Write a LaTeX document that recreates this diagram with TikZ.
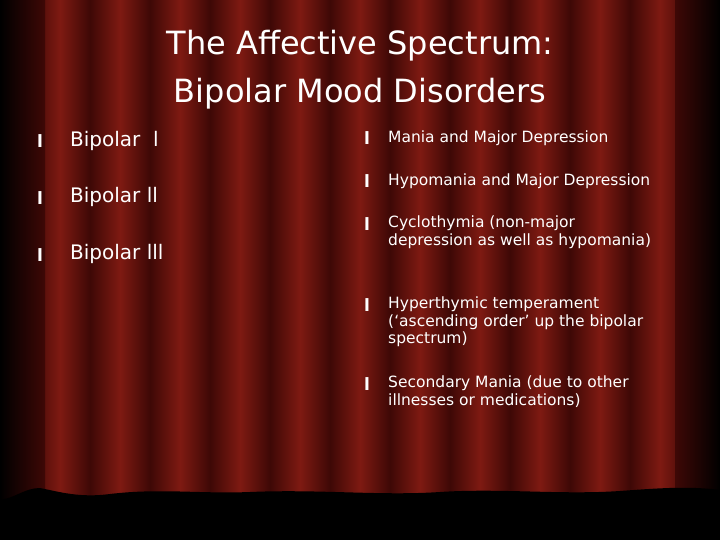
\documentclass[tikz,border=0pt]{standalone}
\usepackage{fontspec}
\setmainfont{DejaVu Sans}
\begin{document}
\begin{tikzpicture}[x=1pt,y=-1pt,
  txt/.style={text=white,anchor=west,inner sep=0pt,font=\fontsize{15.5}{17.5}\selectfont,align=left},
  big/.style={text=white,anchor=west,inner sep=0pt,font=\fontsize{20}{22}\selectfont},
  bul/.style={text=white,anchor=west,inner sep=0pt,font=\bfseries\fontsize{17}{18}\selectfont},
  ttl/.style={text=white,inner sep=0pt,font=\fontsize{32}{48}\selectfont,align=center}]
\useasboundingbox (0,0) rectangle (720,540);
\definecolor{cdark}{HTML}{3E0806}
\definecolor{cmid}{HTML}{6A120E}
\definecolor{clight}{HTML}{7E1A12}
\fill[black] (0,0) rectangle (720,540);
% curtain folds
\foreach \x in {30,90,150,210,270,330,390,450,510,570,630}{
  \shade[left color=cdark, right color=clight] (\x,0) rectangle (\x+30,500);
  \shade[left color=clight, right color=cdark] (\x+30,0) rectangle (\x+60,500);
}
\shade[left color=black, right color=cdark] (0,0) rectangle (45,500);
\shade[left color=cdark, right color=black] (675,0) rectangle (720,500);
% floor edge
\fill[black] (0,540) -- (0,500) .. controls (15,498) and (25,488) .. (40,488)
  .. controls (60,492) and (80,498) .. (110,494)
  .. controls (160,488) and (200,494) .. (250,492)
  .. controls (320,489) and (380,496) .. (440,492)
  .. controls (500,488) and (560,495) .. (620,491)
  .. controls (660,488) and (690,486) .. (720,490) -- (720,540) -- cycle;
\node[ttl] (t) at (360,70) {The Affective Spectrum:\\Bipolar Mood Disorders};
\node[bul] (b1) at (37,141) {l}; \node[big] (l1) at (70,141) {Bipolar\ \ l};
\node[bul] (b2) at (37,198) {l}; \node[big] (l2) at (70,197) {Bipolar ll};
\node[bul] (b3) at (37,255) {l}; \node[big] (l3) at (70,254) {Bipolar lll};
\node[bul] (r1) at (364,138) {l}; \node[txt] (s1) at (388,138) {Mania and Major Depression};
\node[bul] (r2) at (364,181) {l}; \node[txt] (s2) at (388,181) {Hypomania and Major Depression};
\node[bul] (r3) at (364,224) {l}; \node[txt,anchor=north west] (s3) at (388,216) {Cyclothymia (non-major\\depression as well as hypomania)};
\node[bul] (r4) at (364,305) {l}; \node[txt,anchor=north west] (s4) at (388,297) {Hyperthymic temperament\\(‘ascending order’ up the bipolar\\spectrum)};
\node[bul] (r5) at (364,384) {l}; \node[txt,anchor=north west] (s5) at (388,376) {Secondary Mania (due to other\\illnesses or medications)};
\end{tikzpicture}
\end{document}
